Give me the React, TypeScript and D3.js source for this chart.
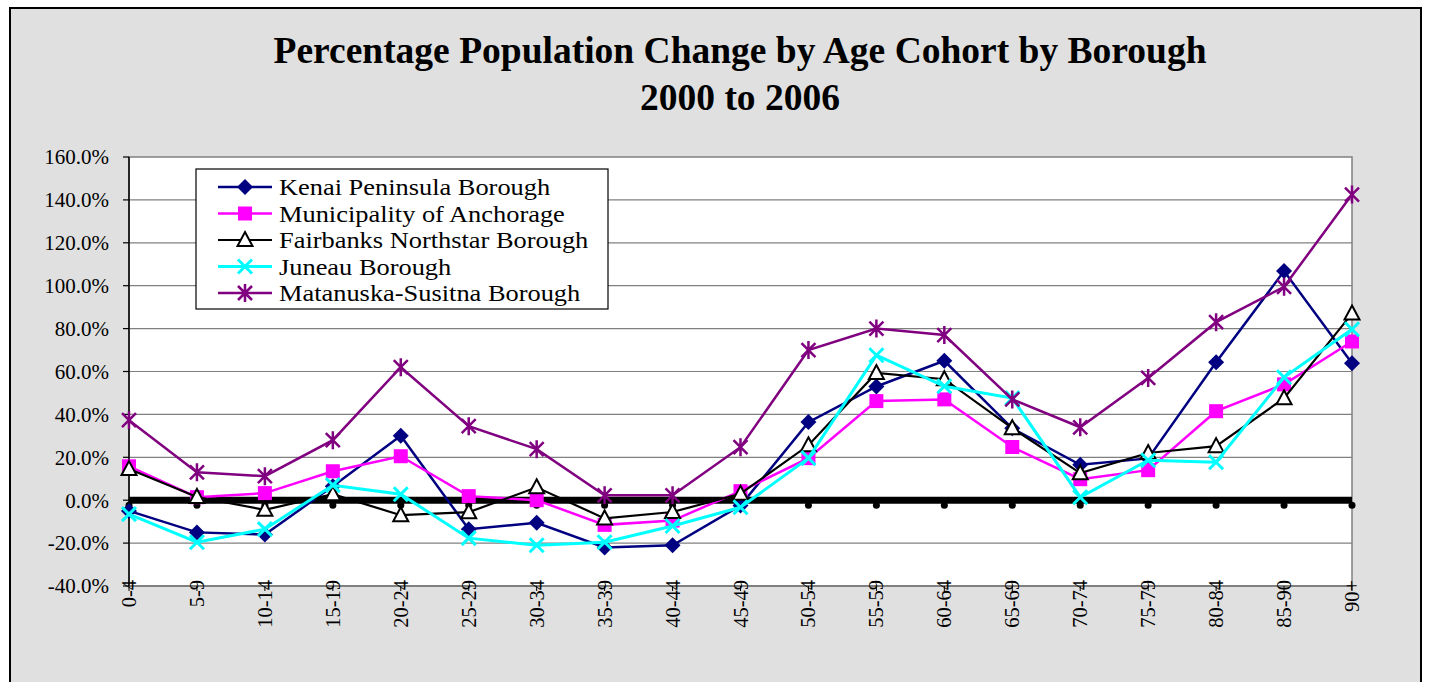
import React from "react";
import * as d3 from "d3";

const categories = ["0-4","5-9","10-14","15-19","20-24","25-29","30-34","35-39","40-44","45-49","50-54","55-59","60-64","65-69","70-74","75-79","80-84","85-90","90+"];
const kenai = [-5, -15, -16, 6.5, 30, -13.5, -10.5, -22, -21, -2.5, 36.4, 53, 65, 33.5, 16.5, 19.5, 64.3, 106.8, 63.8];
const anchorage = [15.8, 1.4, 3.3, 13.5, 20.5, 1.9, 0, -11.5, -9.5, 4.2, 19.6, 46.2, 47, 24.8, 9.8, 14, 41.5, 54, 74];
const fairbanks = [14.5, 1.5, -4.5, 2.8, -7, -5.6, 6, -8.5, -5.5, 3, 25.6, 59.3, 56.4, 33.6, 12.6, 22, 25.2, 47.5, 87];
const juneau = [-6.5, -19.6, -13.5, 7, 2.8, -17.7, -21, -19.6, -12, -3.3, 19.6, 67.6, 53.1, 47.6, 1.4, 18.6, 17.7, 57.3, 79.7];
const matsu = [37.3, 13, 11.2, 28, 62, 34.5, 23.8, 2.3, 2.3, 24.7, 70, 80, 77, 47, 34, 57, 83, 99.5, 142.5];
const zeroLine = categories.map(() => 0);
const yTicks = [-40, -20, 0, 20, 40, 60, 80, 100, 120, 140, 160];
const seriesNames = ["Kenai Peninsula Borough", "Municipality of Anchorage", "Fairbanks Northstar Borough", "Juneau Borough", "Matanuska-Susitna Borough"];

const FONT = "'Liberation Serif', 'Times New Roman', serif";

type Kind = "diamond" | "square" | "triangle" | "x" | "star";
const styles: { color: string; width: number; kind: Kind }[] = [
  { color: "#000080", width: 2.5, kind: "diamond" },
  { color: "#FF00FF", width: 2.5, kind: "square" },
  { color: "#000000", width: 2.2, kind: "triangle" },
  { color: "#00FFFF", width: 3, kind: "x" },
  { color: "#800080", width: 2.5, kind: "star" },
];
const seriesData = [kenai, anchorage, fairbanks, juneau, matsu];

function Marker({ kind, cx, cy, color }: { kind: Kind; cx: number; cy: number; color: string }) {
  switch (kind) {
    case "diamond":
      return <path d={`M${cx},${cy - 8}L${cx + 8},${cy}L${cx},${cy + 8}L${cx - 8},${cy}Z`} fill={color} />;
    case "square":
      return <rect x={cx - 7} y={cy - 7} width={14} height={14} fill={color} />;
    case "triangle":
      return <path d={`M${cx},${cy - 8}L${cx + 7.5},${cy + 6}L${cx - 7.5},${cy + 6}Z`} fill="#fff" stroke="#000" strokeWidth={2} />;
    case "x":
      return <path d={`M${cx - 7},${cy - 7}L${cx + 7},${cy + 7}M${cx - 7},${cy + 7}L${cx + 7},${cy - 7}`} stroke={color} strokeWidth={3} />;
    case "star":
      return <path d={`M${cx - 7},${cy - 7}L${cx + 7},${cy + 7}M${cx - 7},${cy + 7}L${cx + 7},${cy - 7}M${cx},${cy - 9}L${cx},${cy + 9}`} stroke={color} strokeWidth={2.5} />;
  }
}

export default function App() {
  const W = 1430, H = 682;
  const left = 129, right = 1352, top = 157, bottom = 586;
  const x = d3.scalePoint<string>().domain(categories).range([left, right]);
  const y = d3.scaleLinear().domain([-40, 160]).range([bottom, top]);
  const line = d3.line<number>().x((_, i) => x(categories[i])!).y((d) => y(d));

  return (
    <svg width={W} height={H} style={{ position: "absolute", left: 0, top: 0, background: "#fff", fontFamily: FONT }}>
      <rect x={10} y={8} width={1411} height={720} fill="#e0e0e0" stroke="#000" strokeWidth={2} />
      <text x={740} y={63} textAnchor="middle" fontSize={37.5} fontWeight="bold">Percentage Population Change by Age Cohort by Borough</text>
      <text x={740} y={110} textAnchor="middle" fontSize={37.5} fontWeight="bold">2000 to 2006</text>

      <rect x={left} y={top} width={right - left} height={bottom - top} fill="#fff" stroke="#808080" strokeWidth={1.5} />
      {yTicks.map((t) => (
        <g key={t}>
          {t > -40 && t < 160 && <line x1={left} x2={right} y1={y(t)} y2={y(t)} stroke="#808080" strokeWidth={1.2} />}
          <line x1={left - 6} x2={left} y1={y(t)} y2={y(t)} stroke="#000" strokeWidth={1.2} />
          <text x={109} y={y(t)} dy="0.35em" textAnchor="end" fontSize={21}>{t.toFixed(1)}%</text>
        </g>
      ))}
      <line x1={left} x2={right} y1={bottom} y2={bottom} stroke="#808080" strokeWidth={2} />
      <line x1={left} x2={left} y1={top} y2={bottom} stroke="#000" strokeWidth={1.5} />
      {categories.map((c) => (
        <g key={c}>
          <line x1={x(c)!} x2={x(c)!} y1={bottom} y2={bottom + 5} stroke="#000" strokeWidth={1} />
          <text transform={`translate(${x(c)},580) rotate(-90)`} textAnchor="end" dominantBaseline="central" fontSize={20.5}>{c}</text>
        </g>
      ))}

      {/* zero reference series */}
      <path d={line(zeroLine)!} fill="none" stroke="#000" strokeWidth={7} />
      {zeroLine.map((v, i) => (
        <circle key={i} cx={x(categories[i])!} cy={y(v) + 5} r={3.5} fill="#000" />
      ))}

      {seriesData.map((data, si) => (
        <g key={si}>
          <path d={line(data)!} fill="none" stroke={styles[si].color} strokeWidth={styles[si].width} />
          {data.map((v, i) => (
            <Marker key={i} kind={styles[si].kind} cx={x(categories[i])!} cy={y(v)} color={styles[si].color} />
          ))}
        </g>
      ))}

      <rect x={196} y={169} width={412} height={140} fill="#fff" stroke="#000" strokeWidth={1.2} />
      {seriesNames.map((n, i) => {
        const cy = 187 + i * 26.5;
        return (
          <g key={n}>
            <line x1={218} x2={272} y1={cy} y2={cy} stroke={styles[i].color} strokeWidth={styles[i].width} />
            <Marker kind={styles[i].kind} cx={245} cy={cy} color={styles[i].color} />
            <text transform={`translate(279,${cy}) scale(1.1,1)`} dy="0.35em" fontSize={24}>{n}</text>
          </g>
        );
      })}
    </svg>
  );
}
